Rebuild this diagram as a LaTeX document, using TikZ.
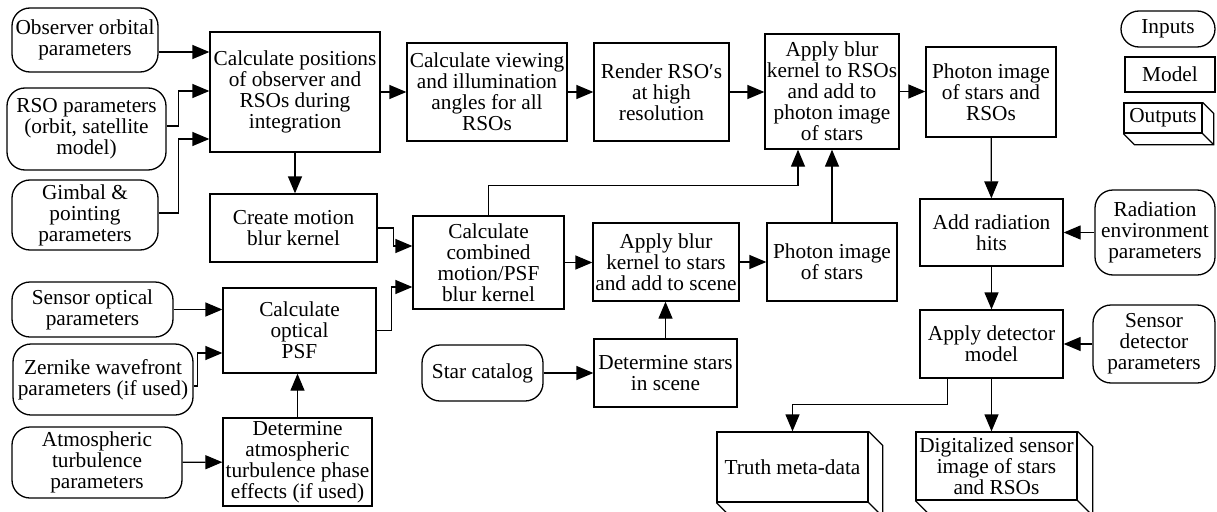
\documentclass[tikz,border=0pt]{standalone}
\usepackage{fontspec}
\setmainfont{Liberation Serif}
\usetikzlibrary{arrows.meta}

\tikzset{
  inp/.style={draw, rounded corners=18pt, align=center, inner sep=1pt},
  mdl/.style={draw, align=center, inner sep=1pt},
  outp/.style={draw, align=center, inner sep=1pt},
}
% right and bottom faces of an output box
\newcommand{\slab}[2]{%
  \draw (#1.north east) -- ++(#2,#2) |- ([shift={(#2,#2)}]#1.south west) -- (#1.south west);
  \draw (#1.south east) -- ++(#2,#2);}

\begin{document}
\begin{tikzpicture}[x=1pt, y=-1pt, line width=1.3pt,
    font=\fontsize{21.3pt}{21pt}\selectfont]
  \clip (0,0) rectangle (1217,511);
  % inputs
  \path
    (85,40) node[inp, minimum width=146, minimum height=64] (obs){Observer orbital\\parameters}
    (86.5,129) node[inp, minimum width=159, minimum height=82] (rsop){RSO parameters\\(orbit, satellite\\model)}
    (85,215) node[inp, minimum width=146, minimum height=70] (gimbal){Gimbal \&\\pointing\\parameters}
    (92.5,309.5) node[inp, minimum width=161, minimum height=55] (sensopt){Sensor optical\\parameters}
    (103,379.5) node[inp, minimum width=180, minimum height=71] (zern){Zernike wavefront\\parameters (if used)}
    (97,462.5) node[inp, minimum width=170, minimum height=71] (atmo){Atmospheric\\turbulence\\parameters}
    (482.5,373) node[inp, minimum width=121, minimum height=56] (starcat){Star catalog}
    (1155,232.5) node[inp, minimum width=120, minimum height=85] (raden){Radiation\\environment\\parameters}
    (1154,344) node[inp, minimum width=122, minimum height=78] (sensdet){Sensor\\detector\\parameters}
    (1168,29) node[inp, minimum width=94, minimum height=36] (leginp){Inputs};
  % model steps
  \path
    (295,92) node[mdl, minimum width=170, minimum height=120] (calcpos){Calculate positions\\of observer and\\RSOs during\\integration}
    (487,92) node[mdl, minimum width=160, minimum height=98] (calcview){Calculate viewing\\and illumination\\angles for all\\RSOs}
    (661.5,92) node[mdl, minimum width=135, minimum height=98] (render){Render RSO′s\\at high\\resolution}
    (832,91.5) node[mdl, minimum width=134, minimum height=115] (blurrso){Apply blur\\kernel to RSOs\\and add to\\photon image\\of stars}
    (991,92) node[mdl, minimum width=130, minimum height=90] (photall){Photon image\\of stars and\\RSOs}
    (293.5,228) node[mdl, minimum width=167, minimum height=68] (motion){Create motion\\blur kernel}
    (488.5,262.5) node[mdl, minimum width=151, minimum height=93] (combined){Calculate\\combined\\motion/PSF\\blur kernel}
    (666,262) node[mdl, minimum width=146, minimum height=78] (blurstar){Apply blur\\kernel to stars\\and add to scene}
    (832,262) node[mdl, minimum width=130, minimum height=78] (photstar){Photon image\\of stars}
    (299.5,330.5) node[mdl, minimum width=153, minimum height=85] (optpsf){Calculate\\optical\\PSF}
    (297.5,462) node[mdl, minimum width=149, minimum height=88] (atmeff){Determine\\atmospheric\\turbulence phase\\effects (if used)}
    (665.5,373) node[mdl, minimum width=143, minimum height=68] (detstar){Determine stars\\in scene}
    (991.5,232.5) node[mdl, minimum width=143, minimum height=67] (radhit){Add radiation\\hits}
    (991.5,344) node[mdl, minimum width=143, minimum height=68] (detmod){Apply detector\\model}
    (1170,74.5) node[mdl, minimum width=90, minimum height=35] (legmdl){Model};
  % outputs
  \path
    (792.5,467) node[outp, minimum width=151, minimum height=70] (truth){Truth meta-data}
    (996.5,466) node[outp, minimum width=161, minimum height=68] (digital){Digitalized sensor\\image of stars\\and RSOs}
    (1163,118) node[outp, minimum width=78, minimum height=30] (legout){Outputs};
  \slab{truth}{14}
  \slab{digital}{15}
  \slab{legout}{11}
  \begin{scope}[-{Triangle[length=17pt, width=14pt]}]
    \draw ([yshift=-12pt]obs.east) -- ([yshift=-12pt]obs.east -| calcpos.west);
    \draw ([yshift=3pt]rsop.east) -- ++(12,0) |- ([yshift=1pt]calcpos.west);
    \draw ([yshift=2pt]gimbal.east) -- ++(20,0) |- ([yshift=-47pt]calcpos.west);
    \draw (calcpos) to (calcview);
    \draw (calcview) to (render);
    \draw (render.east) -- (render.east -| blurrso.west);
    \draw (blurrso.east) -- (blurrso.east -| photall.west);
    \draw (photall) to (radhit);
    \draw (raden) to (radhit);
    \draw (radhit) to (detmod);
    \draw (sensdet) to (detmod);
    \draw (detmod.south) -- (detmod.south |- digital.north);
    \draw ([xshift=-44pt]detmod.south) -- ++(0,26) -| (truth.north);
    \draw (calcpos.south) -- (calcpos.south |- motion.north);
    \draw (motion.east) -- ++(16,0) |- ([yshift=16.5pt]combined.west);
    \draw (optpsf.east) -- ++(15,0) |- ([yshift=-24.5pt]combined.west);
    \draw (combined.north) -- ++(0,-30) -| ([xshift=-34pt]blurrso.south);
    \draw (combined.east) -- (combined.east -| blurstar.west);
    \draw (blurstar) to (photstar);
    \draw (photstar) to (blurrso);
    \draw (starcat) to (detstar);
    \draw (detstar.north) -- (detstar.north |- blurstar.south);
    \draw (sensopt.east) -- (sensopt.east -| optpsf.west);
    \draw ([yshift=-6.5pt]zern.east) -- ++(4,0) |- ([yshift=-22.5pt]optpsf.west);
    \draw (atmo) to (atmeff);
    \draw (atmeff.north) -- (atmeff.north |- optpsf.south);
  \end{scope}
\end{tikzpicture}
\end{document}
